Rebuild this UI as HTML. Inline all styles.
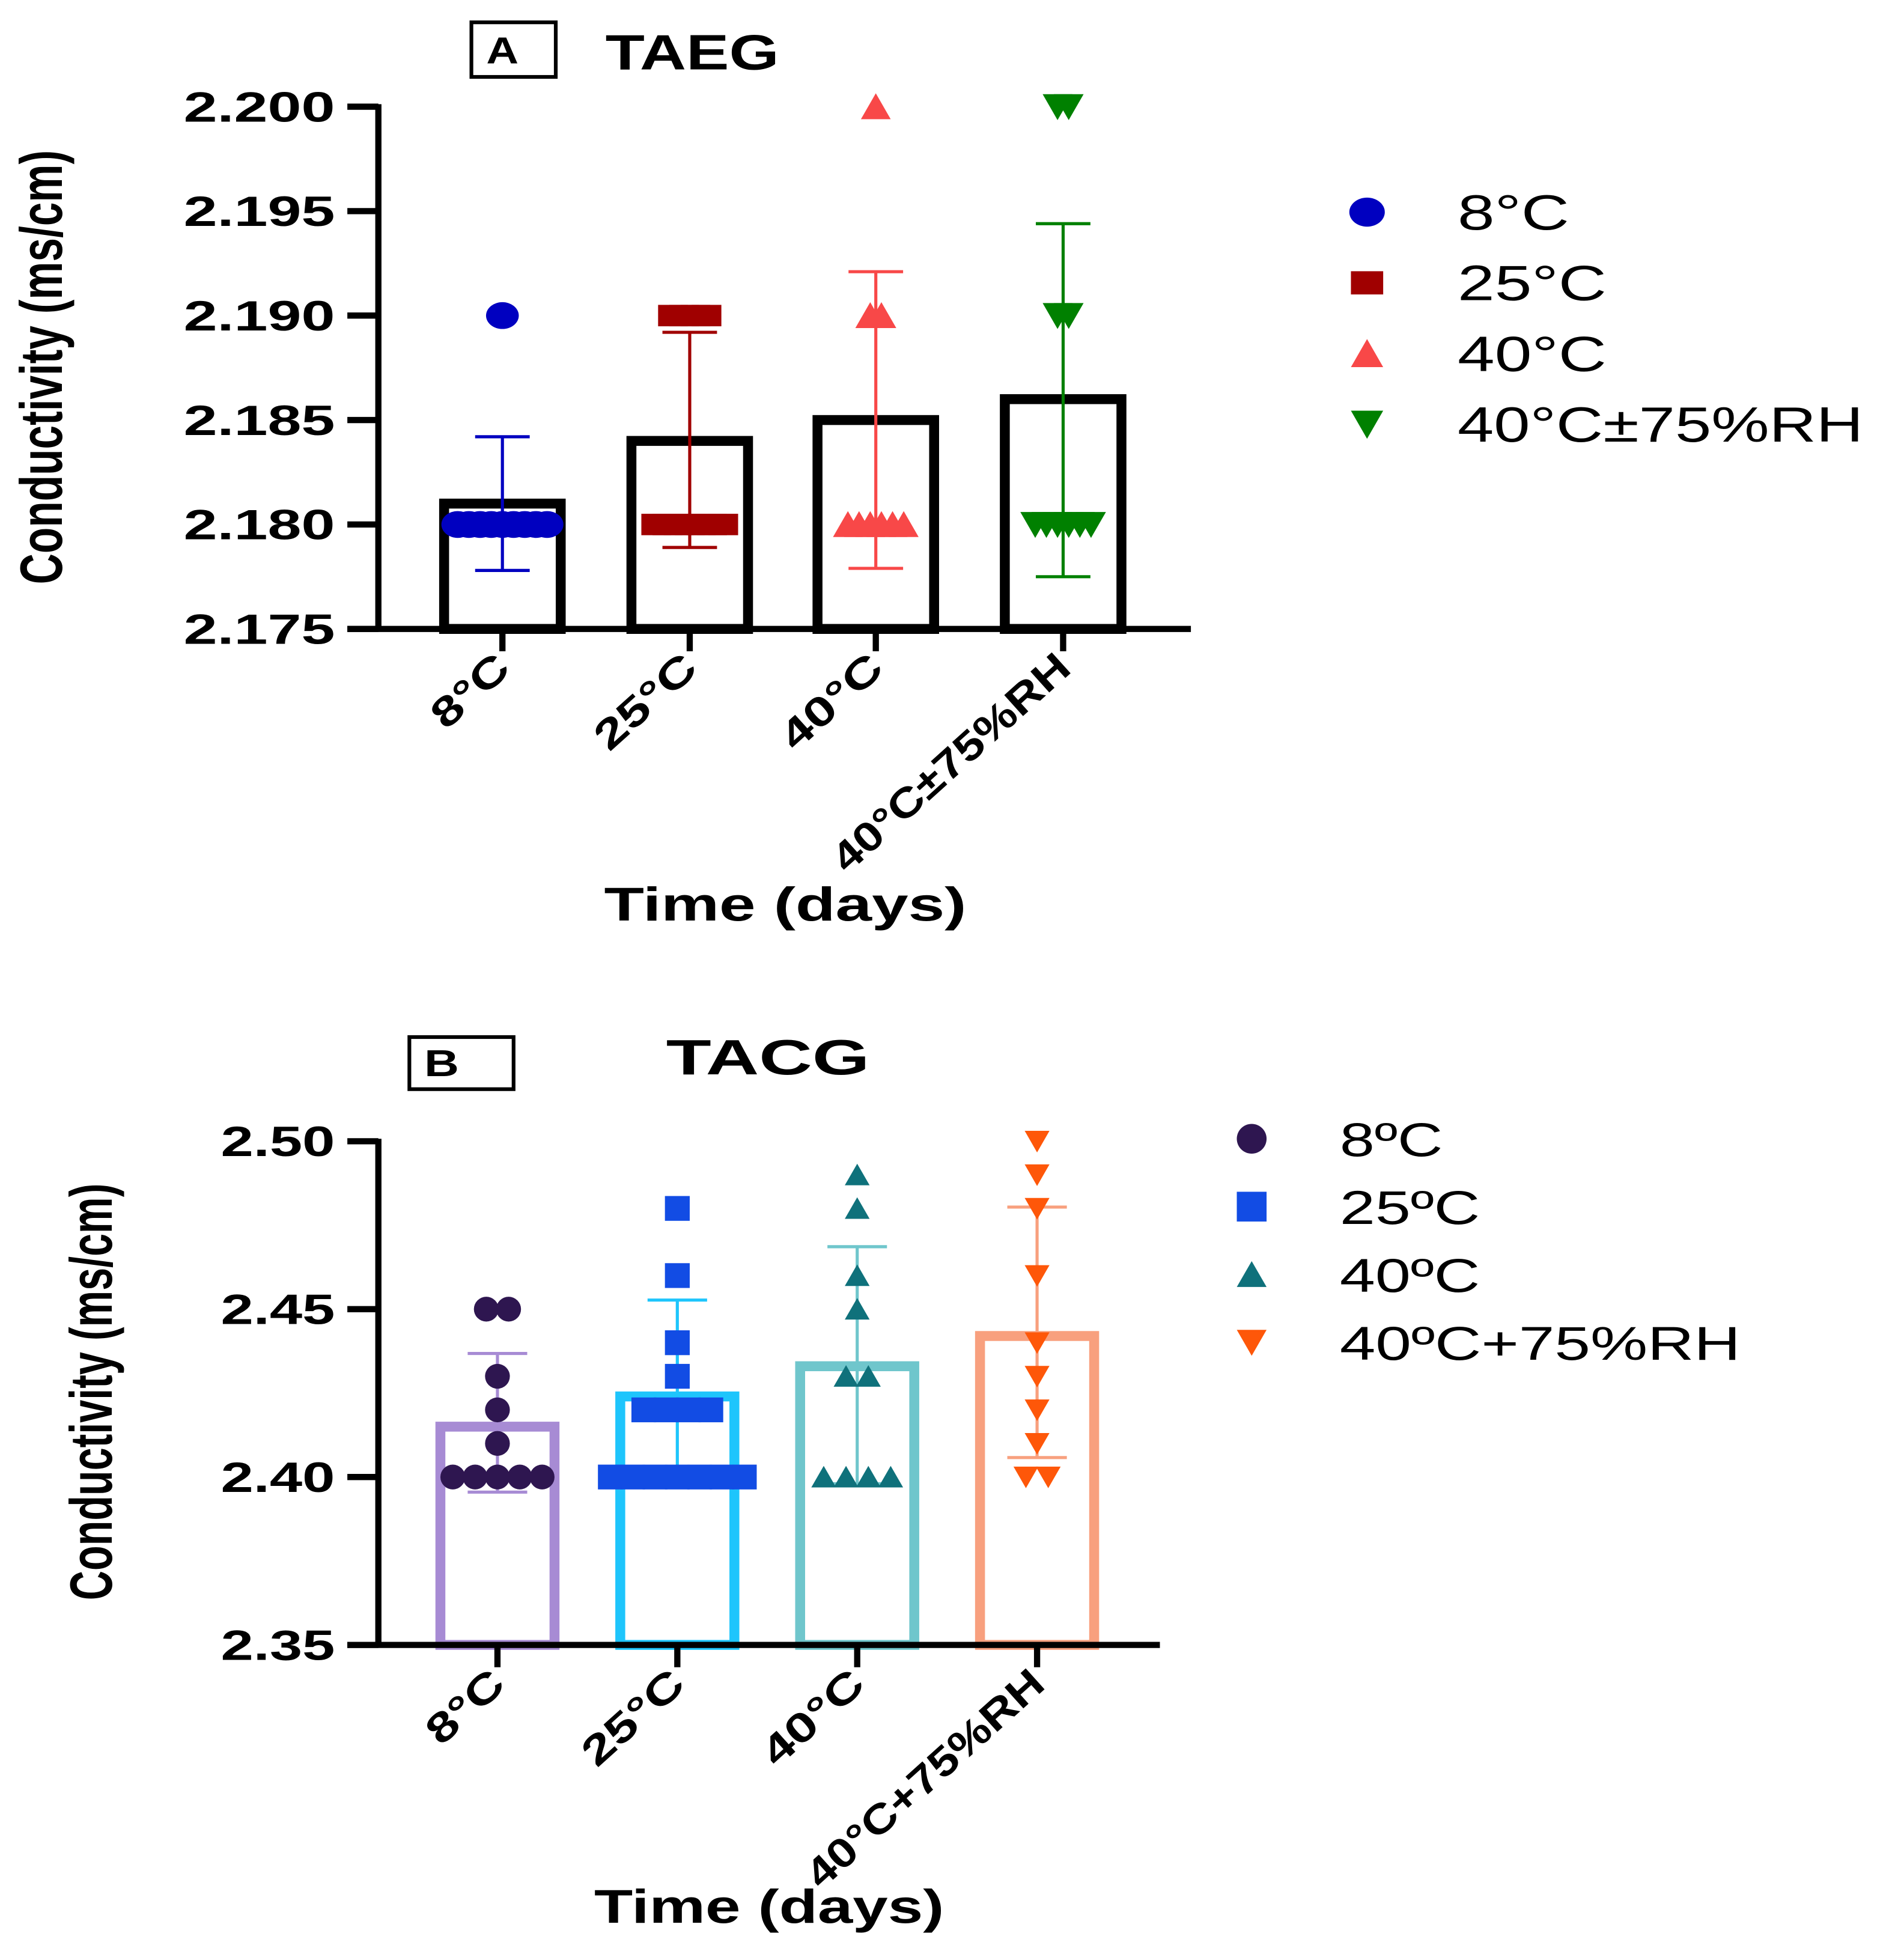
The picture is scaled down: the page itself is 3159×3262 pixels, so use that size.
<!DOCTYPE html>
<html><head><meta charset="utf-8"><style>
html,body{margin:0;padding:0;background:#fff;}
svg{display:block;}
text{font-family:"Liberation Sans",Arial,sans-serif;}
</style></head><body>
<svg id="chart" width="3159" height="3262" viewBox="0 0 1530 1580" preserveAspectRatio="none" xmlns="http://www.w3.org/2000/svg">
<rect width="1530" height="1580" fill="#fff"/>
<g id="panelA"></g>
<g id="panelB"></g>
</svg>
<script>
// ---------- Panel A data ----------
const catsA = ["8°C","25°C","40°C","40°C±75%RH"];
const meansA = [2.181, 2.184, 2.185, 2.186];
const errHiA = [2.1842, 2.1892, 2.1921, 2.1944];
const errLoA = [2.1778, 2.1789, 2.1779, 2.1775];
const ptsA0 = [2.19,2.18,2.18,2.18,2.18,2.18,2.18,2.18,2.18,2.18];
const ptsA1 = [2.19,2.19,2.19,2.19,2.18,2.18,2.18,2.18,2.18,2.18,2.18];
const ptsA2 = [2.2,2.19,2.19,2.18,2.18,2.18,2.18,2.18,2.18];
const ptsA3 = [2.2,2.2,2.19,2.19,2.18,2.18,2.18,2.18,2.18,2.18];
const ticksA = ["2.175","2.180","2.185","2.190","2.195","2.200"];
const tickValsA = [2.175,2.18,2.185,2.19,2.195,2.2];
// ---------- Panel B data ----------
const catsB = ["8ºC","25ºC","40ºC","40ºC+75%RH"];
const xLabelsB = ["8°C","25°C","40°C","40°C+75%RH"];
const meansB = [2.415, 2.424, 2.433, 2.442];
const errHiB = [2.4368, 2.4527, 2.4686, 2.4804];
const errLoB = [2.3955, 2.397, 2.398, 2.4058];
const ptsB0 = [2.45,2.45,2.43,2.42,2.41,2.40,2.40,2.40,2.40,2.40];
const ptsB1 = [2.48,2.46,2.44,2.43,2.42,2.42,2.42,2.42,2.40,2.40,2.40,2.40,2.40,2.40,2.40];
const ptsB2 = [2.49,2.48,2.46,2.45,2.43,2.43,2.40,2.40,2.40,2.40];
const ptsB3 = [2.50,2.49,2.48,2.46,2.44,2.43,2.42,2.41,2.40,2.40];
const ticksB = ["2.35","2.40","2.45","2.50"];
const tickValsB = [2.35,2.40,2.45,2.50];

const NS="http://www.w3.org/2000/svg";
function mk(parent,tag,attrs){const e=document.createElementNS(NS,tag);for(const k in attrs)e.setAttribute(k,attrs[k]);parent.appendChild(e);return e;}

function marker(g,shape,x,y,s,color){
  let e;
  if(shape==="circle") e=mk(g,"ellipse",{cx:x,cy:y,rx:s*0.55,ry:s*0.45,fill:color});
  else if(shape==="circleB") e=mk(g,"circle",{cx:x,cy:y,r:s*0.5,fill:color});
  else if(shape==="square") e=mk(g,"rect",{x:x-s*0.5,y:y-s*0.36,width:s,height:s*0.72,fill:color});
  else if(shape==="squareB") e=mk(g,"rect",{x:x-s*0.5,y:y-s*0.5,width:s,height:s,fill:color});
  else if(shape==="up") e=mk(g,"polygon",{points:`${x-s/2},${y+s*0.42} ${x+s/2},${y+s*0.42} ${x},${y-s*0.45}`,fill:color});
  else e=mk(g,"polygon",{points:`${x-s/2},${y-s*0.42} ${x+s/2},${y-s*0.42} ${x},${y+s*0.45}`,fill:color});
  
  
  return e;
}

function panel(cfg){
  const g=document.getElementById(cfg.id);
  const Y=v=>cfg.y0+(v-cfg.vmin)/(cfg.vmax-cfg.vmin)*(cfg.y1-cfg.y0);
  const box=mk(g,"rect",{x:cfg.box[0],y:cfg.box[1],width:cfg.box[2],height:cfg.box[3],fill:"none",stroke:"#000","stroke-width":3});
  
  const bl=mk(g,"text",{x:cfg.box[0]+12,y:cfg.box[1]+cfg.box[3]*0.75,"font-size":30,"font-weight":"bold",textLength:cfg.letterW,lengthAdjust:"spacingAndGlyphs"});bl.textContent=cfg.letter;
  
  const tt=mk(g,"text",{x:cfg.title[0],y:cfg.title[1],"font-size":40,"font-weight":"bold",textLength:cfg.title[2],lengthAdjust:"spacingAndGlyphs"});tt.textContent=cfg.titleText;
  
  cfg.means.forEach((m,i)=>{
    const cx=cfg.xs[i];
    const b=mk(g,"rect",{x:cx-cfg.bw/2,y:Y(m),width:cfg.bw,height:cfg.y0-Y(m),fill:"none",stroke:cfg.barColors[i],"stroke-width":cfg.bs});
    
  });
  cfg.means.forEach((m,i)=>{
    const cx=cfg.xs[i],c=cfg.errColors[i];
    const eg=mk(g,"g",{stroke:c,"stroke-width":2.5});
    
    mk(eg,"line",{x1:cx,x2:cx,y1:Y(cfg.hi[i]),y2:Y(cfg.lo[i])});
    mk(eg,"line",{x1:cx-cfg.cap,x2:cx+cfg.cap,y1:Y(cfg.hi[i]),y2:Y(cfg.hi[i])});
    mk(eg,"line",{x1:cx-cfg.cap,x2:cx+cfg.cap,y1:Y(cfg.lo[i]),y2:Y(cfg.lo[i])});
  });
  cfg.pts.forEach((arr,i)=>{
    const counts={};arr.forEach(v=>counts[v]=(counts[v]||0)+1);
    const seen={};
    arr.forEach(v=>{
      const n=counts[v];const k=seen[v]=(seen[v]||0)+1;
      const off=(k-1-(n-1)/2)*cfg.spacing;
      marker(g,cfg.shapes[i],cfg.xs[i]+off,Y(v),cfg.ms,cfg.ptColors[i]);
    });
  });
  const ax=mk(g,"g",{stroke:"#000","stroke-width":5});
  
  mk(ax,"line",{x1:cfg.xa,x2:cfg.xa,y1:cfg.y1-2,y2:cfg.y0+2});
  mk(ax,"line",{x1:cfg.xa-25,x2:cfg.xend,y1:cfg.y0,y2:cfg.y0});
  cfg.tickVals.forEach((v,i)=>{
    mk(ax,"line",{x1:cfg.xa-25,x2:cfg.xa,y1:Y(v),y2:Y(v)});
    const t=mk(g,"text",{x:cfg.xa-35-cfg.tickW,y:Y(v)+12,"font-size":34,"font-weight":"bold",textLength:cfg.tickW,lengthAdjust:"spacingAndGlyphs"});
    t.textContent=cfg.ticks[i];
    
  });
  cfg.xs.forEach((x,i)=>{
    mk(ax,"line",{x1:x,x2:x,y1:cfg.y0,y2:cfg.y0+18});
    const w=cfg.xlw[i];
    const t=mk(g,"text",{x:-w,y:0,"font-size":33,"font-weight":"bold",textLength:w,lengthAdjust:"spacingAndGlyphs",transform:`translate(${x+8},${cfg.y0+34}) rotate(-42)`});
    t.textContent=cfg.xlabels[i];
    
  });
  const yt=mk(g,"text",{x:0,y:0,"font-size":48,"font-weight":"bold","text-anchor":"middle",transform:`translate(${cfg.ytx},${cfg.yty}) rotate(-90)`,textLength:cfg.ytl,lengthAdjust:"spacingAndGlyphs"});
  yt.textContent="Conductivity (ms/cm)";
  
  const xt=mk(g,"text",{x:cfg.xtx,y:cfg.xty,"font-size":38,"font-weight":"bold","text-anchor":"middle",textLength:cfg.xtw,lengthAdjust:"spacingAndGlyphs"});
  xt.textContent="Time (days)";
  
  cfg.cats.forEach((c,i)=>{
    const ly=cfg.leg[1]+i*cfg.leg[3];
    const lg=mk(g,"g",{});
    
    marker(lg,cfg.shapes[i],cfg.leg[0],ly,cfg.lms,cfg.ptColors[i]);
    const t=mk(lg,"text",{x:cfg.leg[2],y:ly+14,"font-size":cfg.lfs,textLength:cfg.legW[i],lengthAdjust:"spacingAndGlyphs"});
    t.textContent=c;
  });
}

panel({id:"panelA",letter:"A",letterW:26,titleText:"TAEG",box:[380,18,68,44],title:[488,56,140],
  vmin:2.175,vmax:2.2,y0:507,y1:86,xa:305,xend:960,xs:[405,556,706,857],bw:94,bs:8,cap:22,
  means:meansA,hi:errHiA,lo:errLoA,pts:[ptsA0,ptsA1,ptsA2,ptsA3],
  barColors:["#000","#000","#000","#000"],errColors:["#0000c0","#a00000","#f84848","#008000"],
  ptColors:["#0000c0","#a00000","#f84848","#008000"],shapes:["circle","square","up","down"],
  spacing:9,ms:24,ticks:ticksA,tickVals:tickValsA,tickW:122,xlabels:catsA,xlw:[72,98,98,245],
  ytx:50,yty:296,ytl:350,xtx:633,xty:742,xtw:292,cats:catsA,leg:[1102,171,1175,57],lms:26,lfs:40,legW:[90,120,120,327]});

panel({id:"panelB",letter:"B",letterW:28,titleText:"TACG",box:[330,836,84,42],title:[537,866,164],
  vmin:2.35,vmax:2.50,y0:1326,y1:920,xa:305,xend:935,xs:[401,546,691,836],bw:92,bs:8,cap:24,
  means:meansB,hi:errHiB,lo:errLoB,pts:[ptsB0,ptsB1,ptsB2,ptsB3],
  barColors:["#a78bd4","#1ec5fc","#6fc6cc","#f8a07e"],errColors:["#a78bd4","#1ec5fc","#6fc6cc","#f8a07e"],
  ptColors:["#2e1650","#124ce4","#0f717b","#fe5709"],shapes:["circleB","squareB","up","down"],
  spacing:18,ms:20,ticks:ticksB,tickVals:tickValsB,tickW:92,xlabels:xLabelsB,xlw:[72,98,98,245],
  ytx:90,yty:1122,ytl:336,xtx:620,xty:1550,xtw:282,cats:catsB,leg:[1009,918,1080,54.7],lms:24,lfs:38,legW:[83,113,113,323]});
</script>
</body></html>
